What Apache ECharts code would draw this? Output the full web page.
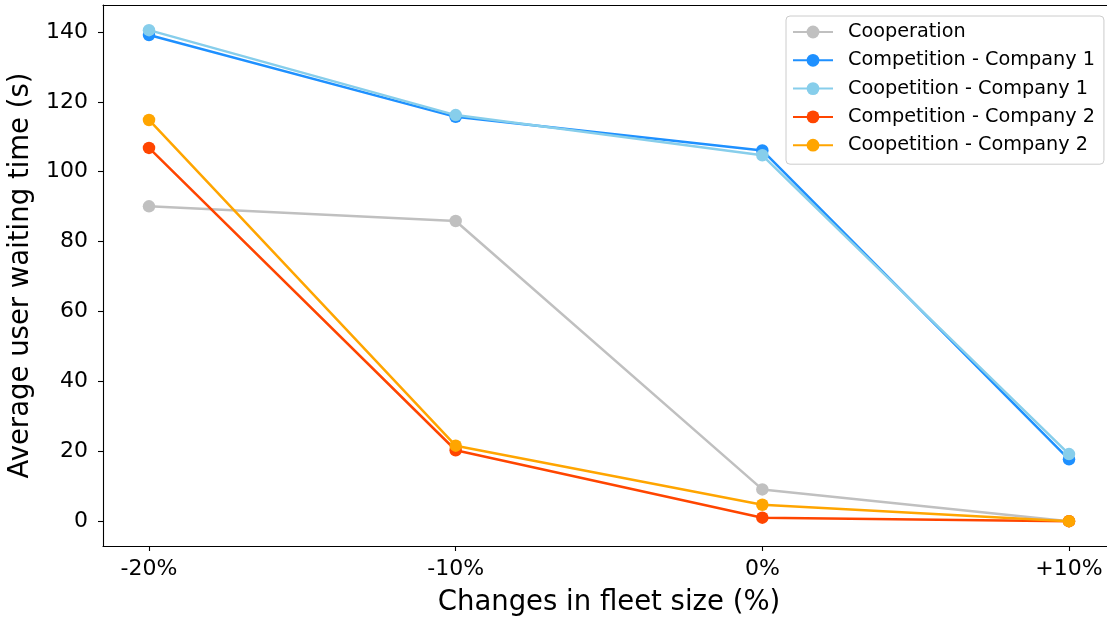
<!DOCTYPE html>
<html>
<head>
<meta charset="utf-8">
<script src="https://cdn.jsdelivr.net/npm/echarts@6/dist/echarts.min.js"></script>
<style>
html,body{margin:0;padding:0;background:#fff;}
#chart{width:1107px;height:619px;}
</style>
</head>
<body>
<div id="chart"></div>
<script>
const categories = ['-20%', '-10%', '0%', '+10%'];
const yTicks = [0, 20, 40, 60, 80, 100, 120, 140];

const cooperation = [90.1, 85.9, 9.1, 0];
const competition1 = [139.1, 115.7, 106.1, 17.7];
const coopetition1 = [140.5, 116.2, 104.7, 19.2];
const competition2 = [106.8, 20.3, 1.0, 0];
const coopetition2 = [114.8, 21.6, 4.7, 0];

const seriesNames = ['Cooperation', 'Competition - Company 1', 'Coopetition - Company 1', 'Competition - Company 2', 'Coopetition - Company 2'];
const seriesValues = [cooperation, competition1, coopetition1, competition2, coopetition2];
const seriesColors = ['#c0c0c0', '#1e90ff', '#87ceeb', '#ff4500', '#ffa500'];

const FONT = 'DejaVu Sans';
const chart = echarts.init(document.getElementById('chart'), null, {renderer: 'canvas'});

const series = seriesNames.map((name, i) => ({
  name: name,
  type: 'line',
  data: seriesValues[i].map((v, j) => [j, v]),
  symbol: 'circle',
  symbolSize: 12.5,
  lineStyle: {width: 2.5, color: seriesColors[i]},
  itemStyle: {color: seriesColors[i]},
  emphasis: {disabled: true},
  z: 2 + i
}));

const tickPositions = categories.map((c, i) => i);

chart.setOption({
  animation: false,
  backgroundColor: '#ffffff',
  grid: {left: 103, top: 5, width: 1012, height: 541, outerBoundsMode: 'none', containLabel: false},
  legend: {
    orient: 'vertical',
    left: 786,
    top: 16,
    padding: [6, 9, 9, 6],
    itemWidth: 40,
    itemHeight: 16,
    itemGap: 8.3,
    backgroundColor: 'rgba(255,255,255,0.8)',
    borderColor: '#cccccc',
    borderWidth: 1,
    borderRadius: 4,
    textStyle: {fontFamily: FONT, fontSize: 19.25, color: '#000', lineHeight: 20, padding: [0, 0, 0, 10]},
    data: seriesNames
  },
  xAxis: [{
    type: 'value',
    position: 'bottom',
    min: -0.15,
    max: 3.15,
    name: 'Changes in fleet size (%)',
    nameLocation: 'middle',
    nameGap: 43,
    nameTextStyle: {fontFamily: FONT, fontSize: 27.5, color: '#000'},
    axisLine: {show: true, onZero: false, lineStyle: {color: '#000', width: 1.1}},
    axisTick: {show: true, length: 5, lineStyle: {color: '#000', width: 1.1}, customValues: tickPositions},
    axisLabel: {
      fontFamily: FONT, fontSize: 22, color: '#000', margin: 12,
      customValues: tickPositions,
      formatter: v => categories[Math.round(v)]
    },
    splitLine: {show: false}
  }, {
    type: 'value',
    position: 'top',
    min: -0.15,
    max: 3.15,
    axisLine: {show: true, onZero: false, lineStyle: {color: '#000', width: 1.1}},
    axisTick: {show: false},
    axisLabel: {show: false},
    splitLine: {show: false}
  }],
  yAxis: {
    type: 'value',
    min: -7.1,
    max: 147.7,
    name: 'Average user waiting time (s)',
    nameLocation: 'middle',
    nameGap: 66,
    nameRotate: 90,
    nameTextStyle: {fontFamily: FONT, fontSize: 27.5, color: '#000'},
    axisLine: {show: true, onZero: false, lineStyle: {color: '#000', width: 1.1}},
    axisTick: {show: true, length: 5, lineStyle: {color: '#000', width: 1.1}, customValues: yTicks},
    axisLabel: {fontFamily: FONT, fontSize: 22, color: '#000', margin: 15, customValues: yTicks},
    splitLine: {show: false}
  },
  series: series
});
</script>
</body>
</html>
